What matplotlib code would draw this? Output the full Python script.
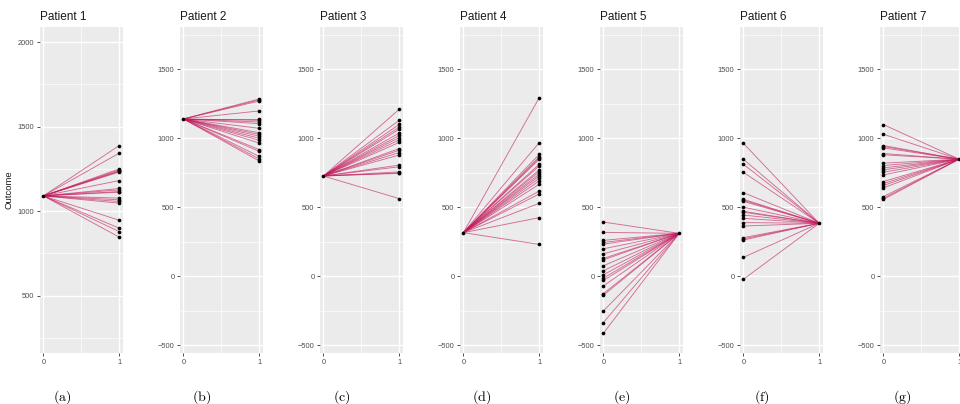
import matplotlib
matplotlib.use("Agg")
import matplotlib.pyplot as plt
from matplotlib.ticker import MultipleLocator

plt.rcParams['font.family'] = ['Liberation Sans', 'DejaVu Sans']
plt.rcParams['mathtext.fontset'] = 'cm'

# one patient per panel: a single fixed value at one time point, many draws at the other
patients = ["Patient 1", "Patient 2", "Patient 3", "Patient 4", "Patient 5", "Patient 6", "Patient 7"]
panel_tags = ["(a)", "(b)", "(c)", "(d)", "(e)", "(f)", "(g)"]

# which time point holds the single fixed value
fixed_time = [0, 0, 0, 0, 1, 1, 1]
fixed_value = [1090, 1140, 726, 315, 310, 383, 848]

draws = [
    [1388, 1343, 1250, 1244, 1238, 1236, 1231, 1181, 1134, 1126, 1116, 1112,
     1077, 1067, 1057, 1047, 946, 899, 879, 846],
    [1285, 1278, 1270, 1198, 1140, 1130, 1118, 1106, 1072, 1040, 1028, 1015,
     1000, 985, 965, 918, 905, 868, 850, 835],
    [1210, 1130, 1100, 1080, 1065, 1038, 1020, 1005, 988, 970, 925, 913,
     896, 878, 805, 793, 756, 748, 745, 562],
    [1294, 968, 883, 866, 855, 847, 811, 799, 770, 757, 740, 726,
     709, 690, 666, 617, 596, 528, 424, 230],
    [392, 317, 259, 244, 232, 198, 162, 128, 118, 75, 38, 9,
     -15, -32, -71, -127, -139, -253, -337, -415],
    [963, 847, 811, 753, 605, 557, 550, 542, 500, 470, 463, 443,
     419, 388, 363, 279, 270, 262, 136, -23],
    [1099, 1029, 947, 940, 930, 889, 880, 819, 802, 785, 771, 754,
     734, 686, 671, 657, 640, 577, 565, 556],
]

ylims = [(160, 2090)] + [(-558, 1807)] * 6
yticks = [[500, 1000, 1500, 2000]] + [[-500, 0, 500, 1000, 1500]] * 6

W, H = 960, 404
fig = plt.figure(figsize=(W / 100, H / 100), dpi=100)

line_color = "#C2185B"
for i, name in enumerate(patients):
    left = 40 + 140 * i
    ax = fig.add_axes([left / W, 51 / H, 83 / W, 326 / H])
    ax.set_facecolor("#EBEBEB")
    for s in ax.spines.values():
        s.set_visible(False)

    fx = fixed_time[i]
    ox = 1 - fx
    for v in draws[i]:
        ax.plot([fx, ox], [fixed_value[i], v], color=line_color, lw=0.65, alpha=0.6,
                solid_capstyle="butt", zorder=2)
    ax.scatter([ox] * len(draws[i]), draws[i], s=7, color="black", zorder=3, lw=0)
    ax.scatter([fx], [fixed_value[i]], s=7, color="black", zorder=3, lw=0)

    ax.set_xlim(-0.045, 1.05)
    ax.set_ylim(*ylims[i])
    ax.set_xticks([0, 1])
    ax.set_yticks(yticks[i])
    ax.xaxis.set_minor_locator(MultipleLocator(0.5))
    ax.yaxis.set_minor_locator(MultipleLocator(250))
    ax.grid(True, which="major", color="white", lw=1.0)
    ax.grid(True, which="minor", color="white", lw=0.5)
    ax.set_axisbelow(True)
    ax.tick_params(which="major", length=2.5, width=0.6, color="#333333",
                   labelsize=5.4, labelcolor="#4D4D4D", pad=1.5)
    ax.tick_params(which="minor", length=0)

    ax.set_title(name, loc="left", fontsize=8.5, pad=5, color="#1A1A1A")
    if i == 0:
        ax.set_ylabel("Outcome", fontsize=6.8, color="#1A1A1A", labelpad=3)

    fig.text((left + 22) / W, 1 - 397 / H, r"$\mathrm{%s}$" % panel_tags[i],
             ha="center", va="center", fontsize=10)

fig.savefig("out.png", dpi=100)
